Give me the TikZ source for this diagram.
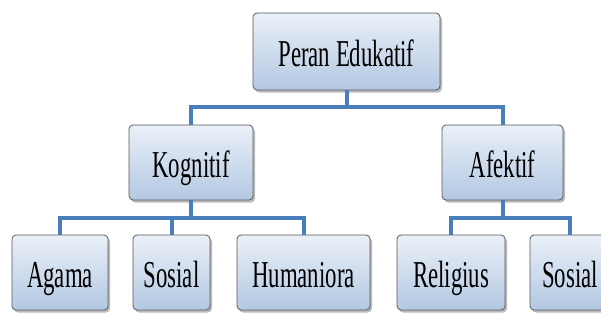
\documentclass[tikz,border=0pt]{standalone}
\usepackage{fontspec}
\setmainfont{Liberation Serif}[FakeStretch=0.6]
\usetikzlibrary{shadows}
\definecolor{boxtop}{HTML}{EAF0F8}
\definecolor{boxbot}{HTML}{B3C8E2}
\definecolor{linkblue}{HTML}{4A7EBB}

\begin{document}
\begin{tikzpicture}[x=1pt, y=-1pt]
    \tikzstyle{bluenode} = [rectangle, rounded corners=4pt,
      minimum height=75pt, inner sep=0pt, text height=30pt, text depth=0pt,
      draw=black!65, line width=0.8pt,
      top color=boxtop, bottom color=boxbot,
      drop shadow={shadow xshift=2pt, shadow yshift=-2.5pt, opacity=0.55},
      font=\fontsize{38}{44}\selectfont]
    \tikzstyle{link} = [line width=4pt, draw=linkblue]

    \useasboundingbox (0,0) rectangle (601,321);

    \node (peran) [bluenode, minimum width=187pt, minimum height=77pt] at (346.5,51.5) {Peran Edukatif};
    \node (kognitif) [bluenode, minimum width=124pt] at (191,162.5) {Kognitif};
    \node (afektif) [bluenode, minimum width=121pt] at (502.5,162.5) {Afektif};

    \node (agama) [bluenode, minimum width=96pt] at (60,272.5) {Agama};
    \node (sosialk) [bluenode, minimum width=77pt] at (171.5,272.5) {Sosial};
    \node (humaniora) [bluenode, minimum width=133pt] at (303.5,272.5) {Humaniora};
    \node (religius) [bluenode, minimum width=108pt] at (451,272.5) {Religius};
    \node (sosiala) [bluenode, minimum width=80pt] at (570,272.5) {Sosial};

    \draw [link] (peran.south) -- ++(0,17) -| (kognitif.north);
    \draw [link] (peran.south) -- ++(0,17) -| (afektif.north);

    \draw [link] (kognitif.south) -- ++(0,18) -| (agama.north);
    \draw [link] (kognitif.south) -- ++(0,18) -| (sosialk.north);
    \draw [link] (kognitif.south) -- ++(0,18) -| (humaniora.north);

    \draw [link] (afektif.south) -- ++(0,18) -| (religius.north);
    \draw [link] (afektif.south) -- ++(0,18) -| (sosiala.north);
  \end{tikzpicture}
\end{document}
